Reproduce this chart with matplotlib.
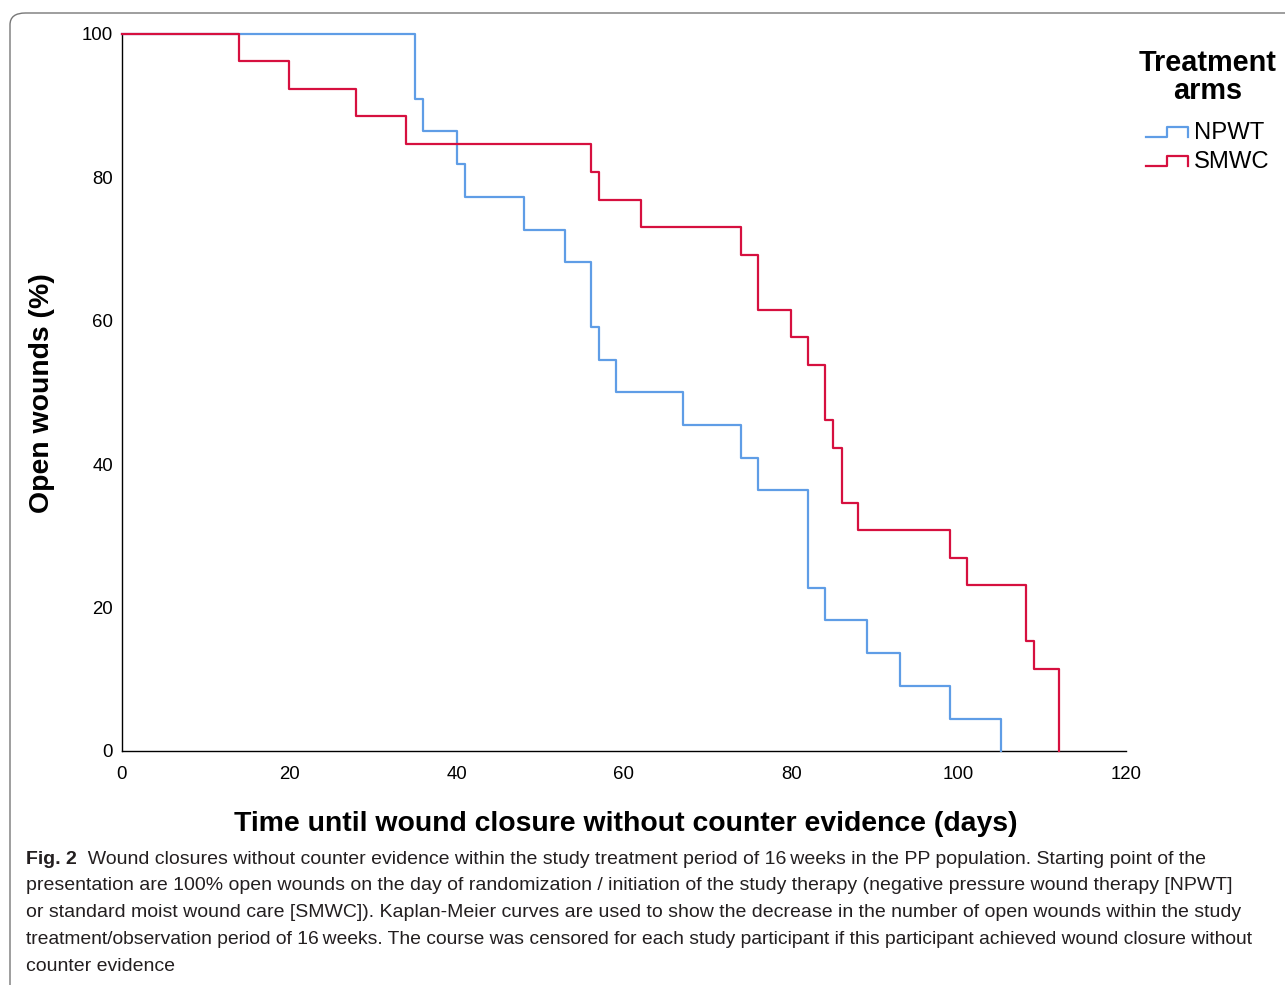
import matplotlib; matplotlib.use("Agg")
import matplotlib.pyplot as plt
from matplotlib.lines import Line2D
from matplotlib.legend_handler import HandlerBase
from matplotlib.patches import FancyBboxPatch

plt.rcParams.update({"font.family": ["Liberation Sans", "DejaVu Sans"], "font.size": 12})

# Kaplan-Meier steps (day, % open wounds)
npwt_days = [0, 35, 36, 40, 41, 48, 53, 56, 57, 59, 67, 74, 76, 82, 84, 89, 93, 99, 105]
npwt_open = [100, 90.9, 86.4, 81.8, 77.3, 72.7, 68.2, 59.1, 54.5, 50.0, 45.5, 40.9, 36.4,
             22.7, 18.2, 13.6, 9.1, 4.5, 0]
smwc_days = [0, 14, 20, 28, 34, 56, 57, 62, 74, 76, 80, 82, 84, 85, 86, 88, 99, 101, 108, 109, 112]
smwc_open = [100, 96.2, 92.3, 88.5, 84.6, 80.8, 76.9, 73.1, 69.2, 61.5, 57.7, 53.8, 46.2,
             42.3, 34.6, 30.8, 26.9, 23.1, 15.4, 11.5, 0]
arms = ["NPWT", "SMWC"]
colors = ["#5F9DE6", "#D6103F"]
xticks = [0, 20, 40, 60, 80, 100, 120]
yticks = [0, 20, 40, 60, 80, 100]

caption = [
    ("Fig. 2", "  Wound closures without counter evidence within the study treatment period of 16\u2009weeks in the PP population. Starting point of the"),
    ("", "presentation are 100% open wounds on the day of randomization / initiation of the study therapy (negative pressure wound therapy [NPWT]"),
    ("", "or standard moist wound care [SMWC]). Kaplan-Meier curves are used to show the decrease in the number of open wounds within the study"),
    ("", "treatment/observation period of 16\u2009weeks. The course was censored for each study participant if this participant achieved wound closure without"),
    ("", "counter evidence"),
]


class StepHandler(HandlerBase):
    def create_artists(self, legend, orig, xd, yd, w, h, fs, trans):
        xm = xd + w * 0.5
        lo, hi = yd + h * 0.15, yd + h * 0.75
        ln = Line2D([xd, xm, xm, xd + w, xd + w], [lo, lo, hi, hi, lo],
                    color=orig.get_color(), lw=orig.get_linewidth(), transform=trans)
        return [ln]


fig = plt.figure(figsize=(12.85, 9.85), dpi=100)
ax = fig.add_axes([0.0949, 0.2376, 0.7814, 0.7279])

handles = []
for d, v, c, lab in [(npwt_days, npwt_open, colors[0], arms[0]),
                     (smwc_days, smwc_open, colors[1], arms[1])]:
    ln, = ax.step(d, v, where="post", color=c, lw=1.6, label=lab, clip_on=False, zorder=3)
    handles.append(ln)

ax.set_xlim(0, 120); ax.set_ylim(0, 100)
ax.set_xticks(xticks); ax.set_yticks(yticks)
ax.tick_params(length=0, labelsize=13.4)
ax.tick_params(axis="y", pad=6.5); ax.tick_params(axis="x", pad=10.5)
for s in ["top", "right"]: ax.spines[s].set_visible(False)
for s in ["left", "bottom"]: ax.spines[s].set_linewidth(1.0)
ax.set_xlabel("Time until wound closure without counter evidence (days)",
              fontsize=20.4, fontweight="bold", va="center")
ax.set_ylabel("Open wounds (%)", fontsize=20.4, fontweight="bold", va="center")
ax.xaxis.set_label_coords(0.502, -0.1018)
ax.yaxis.set_label_coords(-0.0797, 0.499)

leg = fig.legend(handles, arms, handler_map={Line2D: StepHandler()},
                 title="Treatment\narms", loc="upper center", bbox_to_anchor=(1208 / 1285, 1 - 37 / 985),
                 frameon=False, fontsize=17.2, handlelength=1.76, handletextpad=0.25,
                 labelspacing=0.3, borderpad=0)
leg.get_title().set_fontsize(20.8)
leg.get_title().set_fontweight("bold")
leg.get_title().set_multialignment("center")
leg.get_title().set_linespacing(0.98)
leg._legend_box.sep = 0.3 * 17.2 + 7.5  # more room under the title

# caption lines
y0 = 859
for i, (bold, rest) in enumerate(caption):
    y = 1 - (y0 + i * 26.8) / 985
    if bold:
        t = fig.text(26 / 1285, y, bold, fontsize=14, fontweight="bold", va="center", color="#231F20")
        fig.canvas.draw()
        bb = t.get_window_extent()
        fig.text(bb.x1 / 1285, y, rest, fontsize=14, va="center", color="#231F20")
    else:
        fig.text(26 / 1285, y, rest, fontsize=13.9 if i == 3 else 14, va="center", color="#231F20")

# figure frame (rounded top-left, open on right and bottom)
frame = FancyBboxPatch((10 / 1285, -0.05), 1.2, 1 - 13 / 985 + 0.05,
                       boxstyle="round,pad=0,rounding_size=0.012", transform=fig.transFigure,
                       fill=False, ec="#777777", lw=1.0, clip_on=False)
fig.patches.append(frame)

fig.savefig("out.png", dpi=100)
